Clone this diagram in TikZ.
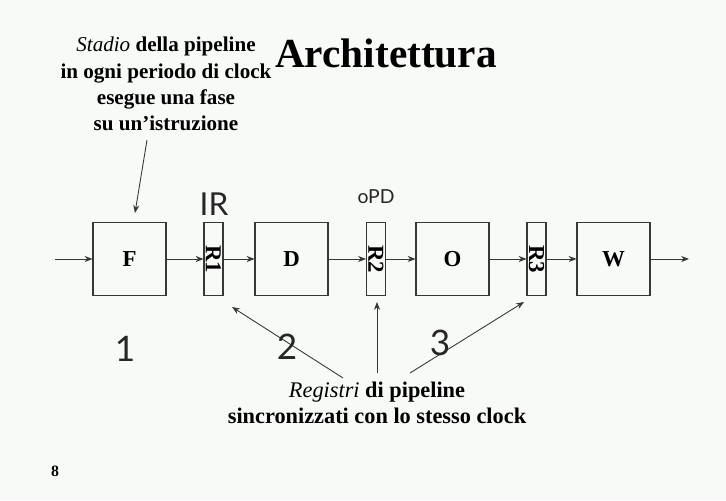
\documentclass[tikz,border=0pt]{standalone}
\usepackage{fontspec}
\setmainfont{Liberation Serif}
\newfontfamily\handfont{Lato}
\usetikzlibrary{arrows.meta}
\definecolor{PageClr}{RGB}{247,250,246}
\definecolor{LineClr}{RGB}{55,55,55}

\begin{document}
\begin{tikzpicture}[x=0.02cm,y=-0.02cm,
  >={Stealth[length=4.5pt,width=3.5pt]},
  stage/.style={draw=LineClr,line width=0.6pt,minimum width=1.46cm,minimum height=1.46cm,
    inner sep=0pt,font=\fontsize{13}{15}\selectfont\bfseries},
  reg/.style={draw=LineClr,line width=0.6pt,minimum width=0.38cm,minimum height=1.46cm,
    inner sep=0pt,font=\fontsize{13}{15}\selectfont\bfseries},
  note/.style={align=center,font=\fontsize{#1}{15}\selectfont\bfseries},
  hand/.style={font=\handfont\fontsize{#1}{#1}\selectfont,text=black!85},
  flow/.style={->,LineClr,line width=0.5pt}]
\useasboundingbox (0,0) rectangle (726,500);
\fill[PageClr] (0,0) rectangle (726,500);

\node[font=\fontsize{23.5}{27}\selectfont\bfseries] (title) at (386,53) {Architettura};

\node[stage] (F) at (129.5,259) {F};
\node[reg] (R1) at (213.5,259) {\rotatebox{-90}{R1}};
\node[stage] (D) at (291.5,259) {D};
\node[reg] (R2) at (376,259) {\rotatebox{-90}{R2}};
\node[stage] (O) at (452.5,259) {O};
\node[reg] (R3) at (536.5,259) {\rotatebox{-90}{R3}};
\node[stage] (W) at (613.5,259) {W};

\coordinate (in) at (55,259);
\coordinate (out) at (689,259);
\draw[flow] (in) -- (F);
\draw[flow] (F) -- (R1);
\draw[flow] (R1) -- (D);
\draw[flow] (D) -- (R2);
\draw[flow] (R2) -- (O);
\draw[flow] (O) -- (R3);
\draw[flow] (R3) -- (W);
\draw[flow] (W) -- (out);

\node[note=12] (stadio) at (166,84) {\textit{\mdseries Stadio} della pipeline\\in ogni periodo di clock\\esegue una fase\\su un'istruzione};
\coordinate (sf) at (147,140);
\coordinate (st) at (135,213);
\draw[flow] (sf) -- (st);

\node[note=12.7] (registri) at (377,403) {\textit{\mdseries Registri} di pipeline\\sincronizzati con lo stesso clock};
\coordinate (a1) at (343,378);
\coordinate (t1) at (232,307);
\coordinate (a2) at (377,373);
\coordinate (t2) at (377,302);
\coordinate (a3) at (410,373);
\coordinate (t3) at (524,302);
\draw[flow] (a1) -- (t1);
\draw[flow] (a2) -- (t2);
\draw[flow] (a3) -- (t3);

\node[hand=18] (ir) at (214,204) {IR};
\node[hand=11] (opd) at (376,197) {oPD};
\node[hand=20] (n1) at (125,349) {1};
\node[hand=20] (n2) at (287,347) {2};
\node[hand=20] (n3) at (440,343) {3};

\node[font=\fontsize{9}{11}\selectfont\bfseries] (page) at (55,471) {8};
\end{tikzpicture}
\end{document}
